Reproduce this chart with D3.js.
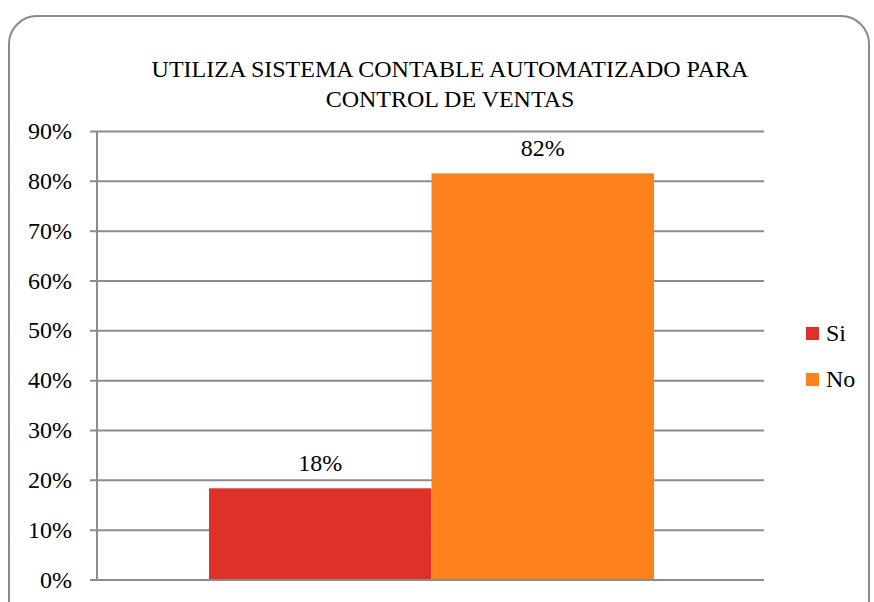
<!DOCTYPE html>
<html><head><meta charset="utf-8">
<script src="https://cdn.jsdelivr.net/npm/d3@7"></script>
<style>
  body { margin: 0; background: #fff; }
  #wrap { position: relative; width: 874px; height: 602px; overflow: hidden; }
  #wrap svg { position: absolute; left: 0; top: 0; }
  .lbl { position: absolute; font-family: "Liberation Serif"; font-size: 24px; color: #000; white-space: nowrap; line-height: 1; }
</style>
</head>
<body>
<div id="wrap"><svg id="s" width="874" height="602"></svg></div>
<script>
const titleLines = ["UTILIZA SISTEMA CONTABLE AUTOMATIZADO PARA", "CONTROL DE VENTAS"];
const seriesNames = ["Si", "No"];
const seriesValues = [0.184, 0.816];
const valueLabels = ["18%", "82%"];
const seriesColors = ["#e0302a", "#fd821e"];
const yTicks = [0, 0.1, 0.2, 0.3, 0.4, 0.5, 0.6, 0.7, 0.8, 0.9];

const svg = d3.select("#s");
const wrap = d3.select("#wrap");
const margin = { left: 97, right: 110, top: 131.5, bottom: 22 };
const width = 874 - margin.left - margin.right;
const height = 602 - margin.top - margin.bottom;

const y = d3.scaleLinear().domain([0, 0.9]).range([height, 0]);
// one category, the two series side by side
const x = d3.scaleBand().domain(seriesNames).range([112, width - 110]).padding(0);

// text as html labels; anchor: 0 = start, 0.5 = middle, 1 = end; baseline at py
function label(txt, px, py, anchor) {
  const el = wrap.append("div").attr("class", "lbl").text(txt);
  const w = el.node().getBoundingClientRect().width;
  // Liberation Serif ascent ~0.891em, line-height 1 box top = baseline - ~0.85em
  el.style("left", (px - w * anchor) + "px").style("top", (py - 20.5) + "px");
}

titleLines.forEach((t, i) => label(t, 450, 77 + i * 30, 0.5));

const g = svg.append("g").attr("transform", `translate(${margin.left},${margin.top})`);

// gridlines and tick marks
yTicks.forEach(v => {
  g.append("line")
    .attr("x1", -7).attr("x2", width)
    .attr("y1", y(v)).attr("y2", y(v))
    .attr("stroke", "#8c8c8c").attr("stroke-width", 2);
  label(d3.format(".0%")(v), margin.left - 25, margin.top + y(v) + 8, 1);
});

g.append("line")
  .attr("x1", 0).attr("x2", 0).attr("y1", 0).attr("y2", height)
  .attr("stroke", "#8c8c8c").attr("stroke-width", 2);

seriesValues.forEach((v, i) => {
  g.append("rect")
    .attr("x", x(seriesNames[i]))
    .attr("width", x.bandwidth())
    .attr("y", y(v))
    .attr("height", height - y(v))
    .attr("fill", seriesColors[i]);
  label(valueLabels[i], margin.left + x(seriesNames[i]) + x.bandwidth() / 2, margin.top + y(v) - 17, 0.5);
});

// baseline over bars
g.append("line")
  .attr("x1", 0).attr("x2", width).attr("y1", height).attr("y2", height)
  .attr("stroke", "#8c8c8c").attr("stroke-width", 2);

// legend
seriesNames.forEach((name, i) => {
  svg.append("rect")
    .attr("x", 806).attr("y", 327 + i * 46)
    .attr("width", 13).attr("height", 13)
    .attr("fill", seriesColors[i]);
  label(name, 826, 341 + i * 46, 0);
});

// outer rounded frame
svg.append("rect")
  .attr("x", 9).attr("y", 16)
  .attr("width", 860).attr("height", 620)
  .attr("rx", 28).attr("ry", 28)
  .attr("fill", "none")
  .attr("stroke", "#8a8a8a")
  .attr("stroke-width", 2);
</script></body></html>
